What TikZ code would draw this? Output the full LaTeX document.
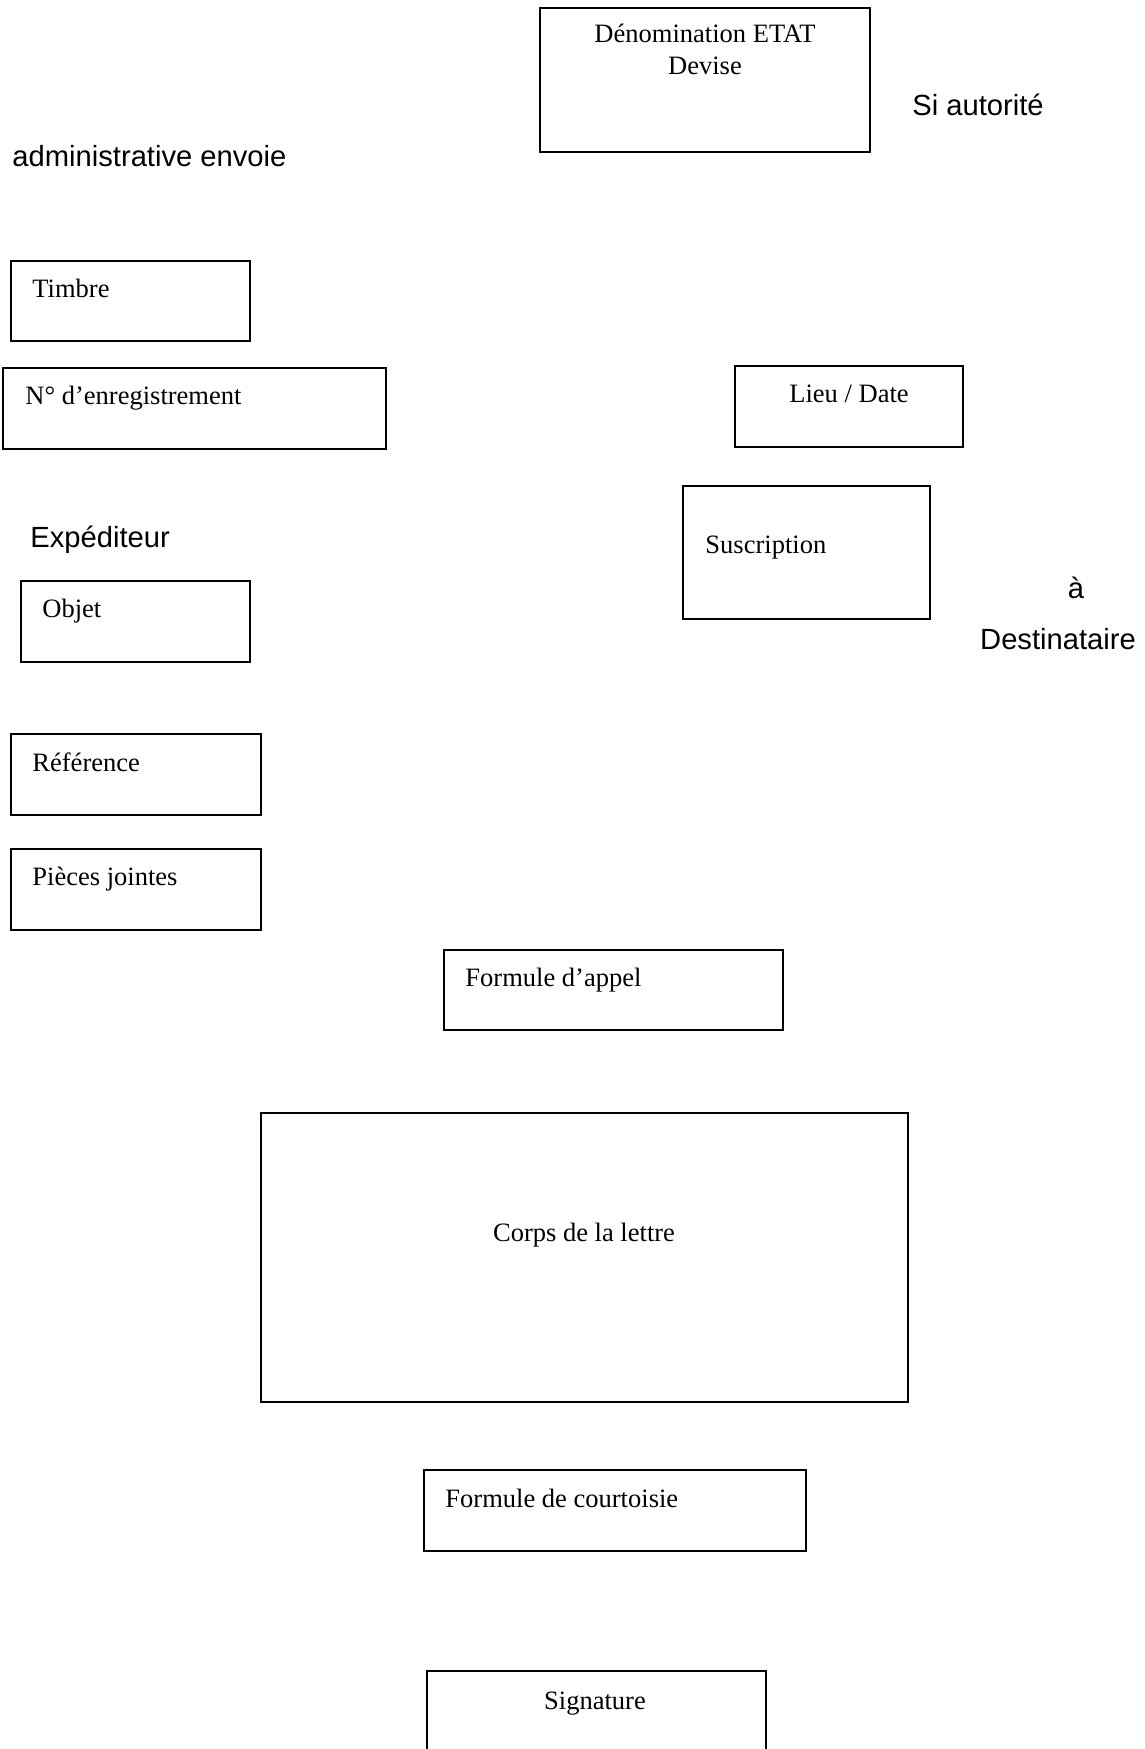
\documentclass[tikz,border=0pt]{standalone}
\usepackage{fontspec}
\setmainfont{Liberation Serif}
\newfontfamily\arialfont{Liberation Sans}
\usetikzlibrary{fit}

\begin{document}
\begin{tikzpicture}
[
	x=0.4525pt,
	y=-0.4525pt,
	boite/.style={draw,line width=0.7pt,inner sep=0pt,rectangle},
	serif/.style={inner sep=0pt,font=\fontsize{12}{14.5}\selectfont},
	libre/.style={inner sep=0pt,font=\arialfont\fontsize{13.2}{16}\selectfont}
]

	\useasboundingbox (0,0) rectangle (1144,1749);
	\clip (0,0) rectangle (1144,1749);

	% en-tete
	\node[boite,fit={(540,8) (870,152)}] (denom) {};
	\node[serif,align=center] (denomtxt) at (705,49) {Dénomination ETAT\\Devise};
	\node[libre] (siaut) at (978,105) {Si autorité};
	\node[libre,anchor=west] (admin) at (12,156) {administrative envoie};

	% expediteur
	\node[boite,fit={(11,261) (250,341)}] (timbre) {};
	\node[serif,anchor=west] (timbretxt) at (32,288) {Timbre};
	\node[boite,fit={(3,368) (386,449)}] (enreg) {};
	\node[serif,anchor=west] (enregtxt) at (25,398) {N° d’enregistrement};
	\node[libre,anchor=west] (exped) at (30,540) {Expéditeur};
	\node[boite,fit={(21,581) (250,662)}] (objet) {};
	\node[serif,anchor=west] (objettxt) at (42,611) {Objet};
	\node[boite,fit={(11,734) (261,815)}] (ref) {};
	\node[serif,anchor=west] (reftxt) at (32,762) {Référence};
	\node[boite,fit={(11,849) (261,930)}] (pieces) {};
	\node[serif,anchor=west] (piecestxt) at (32,879) {Pièces jointes};

	% destinataire
	\node[boite,fit={(735,366) (963,447)}] (lieu) {};
	\node[serif] (lieutxt) at (849,394) {Lieu / Date};
	\node[boite,fit={(683,486) (930,619)}] (suscr) {};
	\node[serif,anchor=west] (suscrtxt) at (705,548) {Suscription};
	\node[libre] (a) at (1076,588) {à};
	\node[libre] (dest) at (1058,639) {Destinataire};

	% corps
	\node[boite,fit={(444,950) (783,1030)}] (appel) {};
	\node[serif,anchor=west] (appeltxt) at (465,980) {Formule d’appel};
	\node[boite,fit={(261,1113) (908,1402)}] (corps) {};
	\node[serif] (corpstxt) at (584,1235) {Corps de la lettre};
	\node[boite,fit={(424,1470) (806,1551)}] (court) {};
	\node[serif,anchor=west] (courttxt) at (445,1498) {Formule de courtoisie};
	\node[boite,fit={(427,1671) (766,1770)}] (sign) {};
	\node[serif] (signtxt) at (595,1704) {Signature};

\end{tikzpicture}
\end{document}
